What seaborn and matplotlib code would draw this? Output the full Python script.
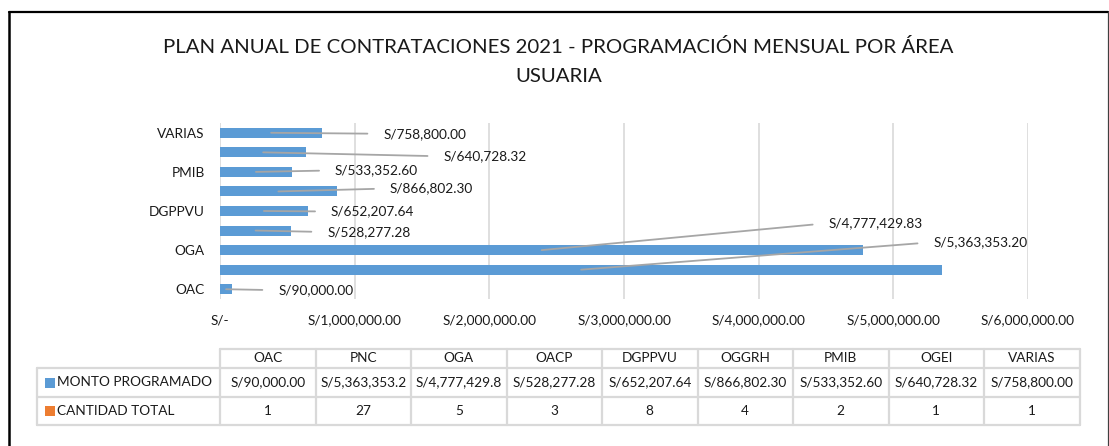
import matplotlib
matplotlib.use("Agg")
import matplotlib.pyplot as plt
import seaborn as sns
import pandas as pd
from matplotlib.lines import Line2D
from matplotlib.patches import Rectangle

# ---------------- data ----------------
areas = ["OAC", "PNC", "OGA", "OACP", "DGPPVU", "OGGRH", "PMIB", "OGEI", "VARIAS"]
monto = [90000.00, 5363353.20, 4777429.83, 528277.28, 652207.64, 866802.30, 533352.60, 640728.32, 758800.00]
cantidad = [1, 27, 5, 3, 8, 4, 2, 1, 1]
series_names = ["MONTO PROGRAMADO", "CANTIDAD TOTAL"]
title_lines = ["PLAN ANUAL DE CONTRATACIONES 2021 - PROGRAMACIÓN MENSUAL POR ÁREA", "USUARIA"]
x_ticks = [0, 1000000, 2000000, 3000000, 4000000, 5000000, 6000000]

# label placement (pixels relative to bar end; dy positive = downward)
label_dx = [46, -9, -35, 36, 23, 53, 43, 137, 61]
label_dy = [1, -27.5, -27, 1.5, 0.5, -3, -1.5, 4, 1]

BLUE = "#5b9bd5"
ORANGE = "#ed7d31"
GRID = "#d9d9d9"
TXT = "#1a1a1a"
FONT = "Lato"

W, H = 1109, 446
DPI = 100

sns.set_theme(style="white")
plt.rcParams["font.family"] = [FONT, "DejaVu Sans"]


def money(v):
    if v == 0:
        return "S/-"
    return "S/{:,.2f}".format(v)


df = pd.DataFrame({"area": areas, "monto": monto, "cantidad": cantidad})
order = areas[::-1]  # OAC at the bottom

fig = plt.figure(figsize=(W / DPI, H / DPI), dpi=DPI)
fig.patch.set_facecolor("white")

# plot area in pixel coords: x 220..1028, y 123..299
L, R, T, B = 220, 1028, 123, 299
ax = fig.add_axes([L / W, 1 - B / H, (R - L) / W, (B - T) / H])

sns.barplot(data=df, x="monto", y="area", order=order, orient="h",
            color=BLUE, width=0.51, saturation=1, linewidth=0, ax=ax)
sns.barplot(data=df, x="cantidad", y="area", order=order, orient="h",
            color=ORANGE, width=0.51, saturation=1, linewidth=0, ax=ax)

ax.set_xlim(0, 6000000)
ax.set_xticks(x_ticks)
ax.set_xticklabels([money(v) for v in x_ticks])
ax.set_xlabel("")
ax.set_ylabel("")
ax.grid(axis="x", color=GRID, linewidth=1.2)
ax.grid(axis="y", visible=False)
ax.set_axisbelow(True)
for s in ax.spines.values():
    s.set_visible(False)
ax.tick_params(axis="x", length=0, pad=11, labelsize=9.8, labelcolor=TXT)
ax.tick_params(axis="y", length=0, pad=11, labelsize=9.8, labelcolor=TXT)
# Excel skipped every other category label
ylabels = [a if i % 2 == 0 else "" for i, a in enumerate(order)]
ax.set_yticks(range(len(order)))
ax.set_yticklabels(ylabels)

# data labels with leader lines
fig.canvas.draw()
for a, v, dx, dy in zip(areas, monto, label_dx, label_dy):
    yi = order.index(a)
    bx, by = ax.transData.transform((v, yi))
    tx, ty = bx + dx, by - dy
    txd = ax.transData.inverted().transform((tx, ty))
    ax.annotate(money(v), xy=(v / 2, yi), xytext=(txd[0], txd[1]),
                textcoords="data", xycoords="data",
                ha="left", va="center", fontsize=9.8, color=TXT,
                annotation_clip=False,
                arrowprops=dict(arrowstyle="-", color="#a6a6a6", lw=1.3,
                                shrinkA=9, shrinkB=0, relpos=(0, 0.5)))

# overlay axes in pixel coordinates for frame, title and data table
ov = fig.add_axes([0, 0, 1, 1], zorder=-1)
ov.set_xlim(0, W)
ov.set_ylim(H, 0)
ov.axis("off")

# frame
ov.add_line(Line2D([9, 1108], [12, 12], color="black", lw=1.6))
ov.add_line(Line2D([9, 9], [12, H + 2], color="black", lw=1.8))
ov.add_line(Line2D([1108, 1108], [12, H + 2], color="#404040", lw=0.9))

# title (two centred lines)
for line, yc in zip(title_lines, [47, 77]):
    ov.text(558.5, yc, line, ha="center", va="center",
            fontsize=14.7, color=TXT)

# data table
col0, colw, ncol = 220, 95.5, len(areas)
lab_left = 37
rows = [349, 368, 397, 425]
tl = dict(color=GRID, lw=1.6)
right = col0 + colw * ncol
ov.add_line(Line2D([col0, right], [rows[0], rows[0]], **tl))
for r in rows[1:]:
    ov.add_line(Line2D([lab_left, right], [r, r], **tl))
for i in range(ncol + 1):
    xx = col0 + i * colw
    ov.add_line(Line2D([xx, xx], [rows[0], rows[-1]], **tl))
ov.add_line(Line2D([lab_left, lab_left], [rows[1], rows[-1]], **tl))

row_mid = [(rows[i] + rows[i + 1]) / 2 for i in range(3)]
for i, a in enumerate(areas):
    cx = col0 + (i + 0.5) * colw
    ov.text(cx, row_mid[0], a, ha="center", va="center", fontsize=9.8, color=TXT)
    ov.text(cx, row_mid[1], money(monto[i])[:13], ha="center", va="center",
            fontsize=9.8, color=TXT)
    ov.text(cx, row_mid[2], str(cantidad[i]), ha="center", va="center",
            fontsize=9.8, color=TXT)

for k, (name, colr) in enumerate(zip(series_names, [BLUE, ORANGE])):
    ym = row_mid[k + 1]
    ov.add_patch(Rectangle((45, ym - 5), 10, 10, color=colr, lw=0))
    ov.text(57, ym, name, ha="left", va="center", fontsize=9.8, color=TXT)

fig.savefig("out.png", dpi=DPI, facecolor="white")
